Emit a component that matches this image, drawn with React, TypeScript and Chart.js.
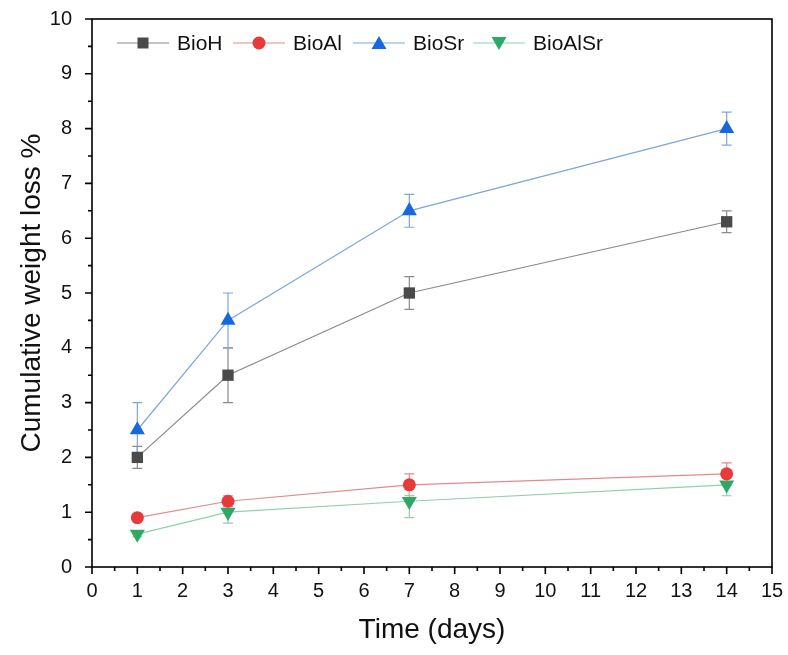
import React, { useEffect, useRef } from "react";
import { Chart, registerables } from "chart.js";

Chart.register(...registerables);

const days = [1, 3, 7, 14];
const seriesNames = ["BioH", "BioAl", "BioSr", "BioAlSr"];
const bioH = [2.0, 3.5, 5.0, 6.3];
const bioAl = [0.9, 1.2, 1.5, 1.7];
const bioSr = [2.5, 4.5, 6.5, 8.0];
const bioAlSr = [0.6, 1.0, 1.2, 1.5];
const errH = [0.2, 0.5, 0.3, 0.2];
const errAl = [0.05, 0.1, 0.2, 0.2];
const errSr = [0.5, 0.5, 0.3, 0.3];
const errAlSr = [0.05, 0.2, 0.3, 0.2];
const xTicks = [0, 15, 1];
const yTicks = [0, 10, 1];

const FONT = "'Liberation Sans', Arial, sans-serif";

const styles = [
  { line: "#8a8a8a", marker: "#4a4a4a", err: "#8a8a8a", pointStyle: "rect", radius: 8, rotation: 0 },
  { line: "#e48a8a", marker: "#e83a3a", err: "#e48a8a", pointStyle: "circle", radius: 6.5, rotation: 0 },
  { line: "#7ba6dc", marker: "#1668e0", err: "#7ba6dc", pointStyle: "triangle", radius: 8.7, rotation: 0 },
  { line: "#8fd0ad", marker: "#2ea865", err: "#8fd0ad", pointStyle: "triangle", radius: 8.7, rotation: 180 },
];

const values = [bioH, bioAl, bioSr, bioAlSr];
const errors = [errH, errAl, errSr, errAlSr];

const errorBarPlugin = {
  id: "errorBars",
  beforeDatasetsDraw(chart: any) {
    const { ctx, scales } = chart;
    const xs = scales.x;
    const ys = scales.y;
    chart.data.datasets.forEach((ds: any, i: number) => {
      const err = errors[i];
      ctx.save();
      ctx.strokeStyle = styles[i].err;
      ctx.lineWidth = 1.2;
      ds.data.forEach((p: any, j: number) => {
        const x = xs.getPixelForValue(p.x);
        const yt = ys.getPixelForValue(p.y + err[j]);
        const yb = ys.getPixelForValue(p.y - err[j]);
        ctx.beginPath();
        ctx.moveTo(x, yt);
        ctx.lineTo(x, yb);
        ctx.moveTo(x - 5, yt);
        ctx.lineTo(x + 5, yt);
        ctx.moveTo(x - 5, yb);
        ctx.lineTo(x + 5, yb);
        ctx.stroke();
      });
      ctx.restore();
    });
  },
};

const framePlugin = {
  id: "frame",
  afterDraw(chart: any) {
    const { ctx, chartArea, scales } = chart;
    const { left, right, top, bottom } = chartArea;
    ctx.save();
    ctx.strokeStyle = "#000";
    ctx.lineWidth = 1.6;
    ctx.strokeRect(left, top, right - left, bottom - top);
    ctx.beginPath();
    for (let v = xTicks[0]; v <= xTicks[1] + 1e-9; v += 0.5) {
      const x = scales.x.getPixelForValue(v);
      const major = Math.abs(v - Math.round(v)) < 1e-9;
      ctx.moveTo(x, bottom);
      ctx.lineTo(x, bottom + (major ? 7 : 4));
    }
    for (let v = yTicks[0]; v <= yTicks[1] + 1e-9; v += 0.5) {
      const y = scales.y.getPixelForValue(v);
      const major = Math.abs(v - Math.round(v)) < 1e-9;
      ctx.moveTo(left, y);
      ctx.lineTo(left - (major ? 7 : 4), y);
    }
    ctx.stroke();

    // legend
    const ly = top + 24;
    const starts = [left + 25, left + 141, left + 261, left + 381];
    seriesNames.forEach((name, i) => {
      const s = styles[i];
      const x0 = starts[i];
      ctx.strokeStyle = s.line;
      ctx.lineWidth = 1.2;
      ctx.beginPath();
      ctx.moveTo(x0, ly);
      ctx.lineTo(x0 + 52, ly);
      ctx.stroke();
      ctx.fillStyle = s.marker;
      const cx = x0 + 26;
      ctx.beginPath();
      if (s.pointStyle === "rect") {
        ctx.rect(cx - 5.5, ly - 5.5, 11, 11);
      } else if (s.pointStyle === "circle") {
        ctx.arc(cx, ly, 6.5, 0, Math.PI * 2);
      } else if (s.rotation === 0) {
        ctx.moveTo(cx, ly - 7);
        ctx.lineTo(cx + 7.5, ly + 6);
        ctx.lineTo(cx - 7.5, ly + 6);
        ctx.closePath();
      } else {
        ctx.moveTo(cx, ly + 7);
        ctx.lineTo(cx + 7.5, ly - 6);
        ctx.lineTo(cx - 7.5, ly - 6);
        ctx.closePath();
      }
      ctx.fill();
      ctx.fillStyle = "#111";
      ctx.font = `21px ${FONT}`;
      ctx.textBaseline = "middle";
      ctx.textAlign = "left";
      ctx.fillText(name, x0 + 60, ly + 1);
    });
    ctx.restore();
  },
};

function zeroPad(scale: any) {
  scale.paddingTop = 0;
  scale.paddingBottom = 0;
  scale.paddingLeft = 0;
  scale.paddingRight = 0;
}

export default function App() {
  const ref = useRef<HTMLCanvasElement | null>(null);
  useEffect(() => {
    document.body.style.margin = "0";
    document.body.style.overflow = "hidden";
    if (!ref.current) return;
    const chart = new Chart(ref.current, {
      type: "line",
      data: {
        datasets: seriesNames.map((name, i) => ({
          label: name,
          data: days.map((d, j) => ({ x: d, y: values[i][j] })),
          borderColor: styles[i].line,
          backgroundColor: styles[i].marker,
          pointBackgroundColor: styles[i].marker,
          pointBorderWidth: 0,
          pointBorderColor: styles[i].marker,
          pointStyle: styles[i].pointStyle as any,
          pointRotation: styles[i].rotation,
          pointRadius: styles[i].radius,
          borderWidth: 1.2,
          tension: 0,
        })),
      },
      options: {
        responsive: false,
        animation: false,
        layout: { padding: { top: 19, right: 16, left: 8, bottom: 8 } },
        plugins: { legend: { display: false }, tooltip: { enabled: false } },
        scales: {
          x: {
            type: "linear",
            min: xTicks[0],
            max: xTicks[1],
            grid: { display: false, drawTicks: false },
            border: { display: false },
            ticks: { stepSize: xTicks[2], color: "#111", font: { size: 20, family: FONT }, padding: 12, maxRotation: 0, autoSkip: false },
            title: { display: true, text: "Time (days)", color: "#111", font: { size: 28, family: FONT }, padding: { top: 0, bottom: 0 } },
            afterFit(scale: any) {
              scale.height = 80;
              zeroPad(scale);
            },
          },
          y: {
            type: "linear",
            min: yTicks[0],
            max: yTicks[1],
            grid: { display: false, drawTicks: false },
            border: { display: false },
            ticks: { stepSize: yTicks[2], color: "#111", font: { size: 20, family: FONT }, padding: 20 },
            title: { display: true, text: "Cumulative weight loss %", color: "#111", font: { size: 28, family: FONT }, padding: { top: 7, bottom: 0 } },
            afterFit(scale: any) {
              scale.width = 84;
              zeroPad(scale);
            },
          },
        },
      },
      plugins: [errorBarPlugin, framePlugin],
    });
    return () => chart.destroy();
  }, []);
  return (
    <div style={{ width: 788, height: 655 }}>
      <canvas ref={ref} width={788} height={655} style={{ display: "block" }} />
    </div>
  );
}
